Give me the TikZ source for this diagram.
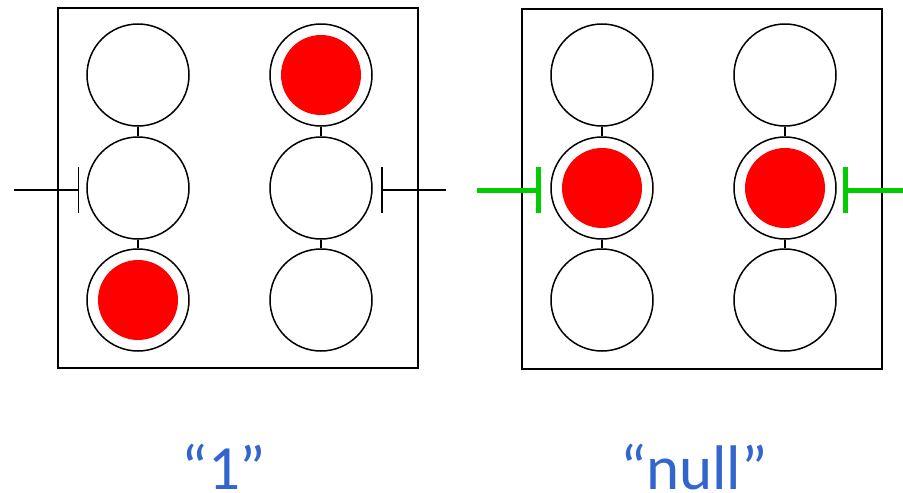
\documentclass[tikz,border=0pt]{standalone}
\usepackage{fontspec}
\newfontfamily\labfont{Carlito}
\usetikzlibrary{arrows.meta}
\definecolor{labblue}{RGB}{51,102,204}
\definecolor{bargreen}{RGB}{0,204,0}
\begin{document}
\begin{tikzpicture}[x=1pt,y=-1pt,
  cell/.style={circle,draw=black,line width=1.5pt,minimum size=102pt,inner sep=0pt,fill=white},
  lit/.style={path picture={\fill[red] (path picture bounding box.center) circle (40pt);}},
  frame/.style={draw=black,line width=1.5pt,minimum width=360pt,minimum height=360pt,inner sep=0pt},
  link/.style={line width=1.5pt},
  blackbar/.style={line width=1.5pt,-{Bar[width=46pt,line width=1.5pt]}},
  greenbar/.style={draw=bargreen,line width=5pt,-{Bar[width=46pt,line width=5pt]}},
  lab/.style={font=\labfont\fontsize{63}{70}\selectfont,text=labblue,anchor=base,inner sep=0pt,text depth=0pt}]
\useasboundingbox (0,0) rectangle (903,493);
% frames
\node[frame] (boxL) at (238,188) {};
\node[frame] (boxR) at (702,189) {};
% left group
\node[cell] (L11) at (138,75) {};
\node[cell] (L21) at (138,188) {};
\node[cell,lit] (L31) at (138,300) {};
\node[cell,lit] (L12) at (321,75) {};
\node[cell] (L22) at (321,188) {};
\node[cell] (L32) at (321,300) {};
% right group
\node[cell] (R11) at (602,75) {};
\node[cell,lit] (R21) at (602,188) {};
\node[cell] (R31) at (602,300) {};
\node[cell] (R12) at (785,75) {};
\node[cell,lit] (R22) at (785,188) {};
\node[cell] (R32) at (785,300) {};
% links
\foreach \g in {L,R}{
  \foreach \c in {1,2}{
    \draw[link] (\g1\c.south) -- (\g2\c.north);
    \draw[link] (\g2\c.south) -- (\g3\c.north);
  }
}
% bar ends
\coordinate (bLa) at (14,190);  \coordinate (bLb) at (79,190);
\coordinate (bRa) at (446,190); \coordinate (bRb) at (381,190);
\coordinate (gLa) at (477,190); \coordinate (gLb) at (541,190);
\coordinate (gRa) at (903,190); \coordinate (gRb) at (843,190);
\draw[blackbar] (bLa) -- (bLb);
\draw[blackbar] (bRa) -- (bRb);
\draw[greenbar] (gLa) -- (gLb);
\draw[greenbar] (gRa) -- (gRb);
% labels
\node[lab] (t1) at (224,489) {“1”};
\node[lab] (t2) at (694,489) {“null”};
\end{tikzpicture}
\end{document}
